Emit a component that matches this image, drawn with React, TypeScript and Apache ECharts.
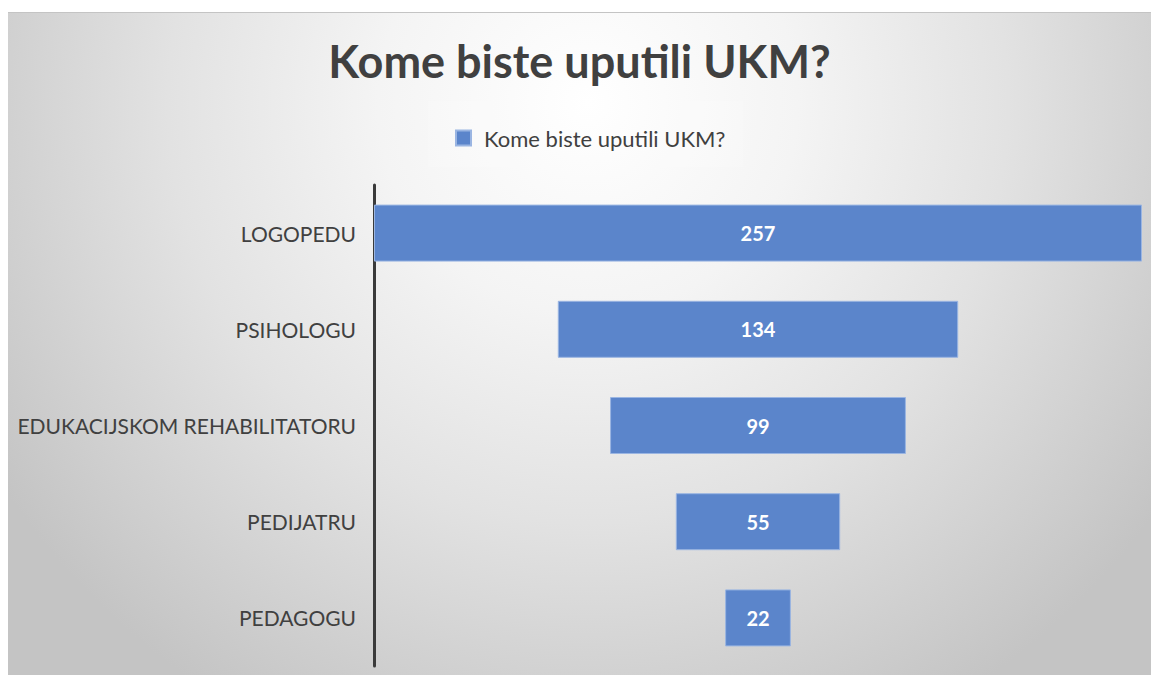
import React, { useEffect, useRef } from "react";
import * as echarts from "echarts";

const titleText = "Kome biste uputili UKM?";
const seriesName = "Kome biste uputili UKM?";
const categories = ["LOGOPEDU", "PSIHOLOGU", "EDUKACIJSKOM REHABILITATORU", "PEDIJATRU", "PEDAGOGU"];
const values = [257, 134, 99, 55, 22];

export default function App() {
  const ref = useRef<HTMLDivElement>(null);
  useEffect(() => {
    if (!ref.current) return;
    const chart = echarts.init(ref.current, null, { renderer: "svg" });
    const maxVal = Math.max(...values);
    const offsets = values.map((v) => (maxVal - v) / 2);
    const font = "Lato, 'Open Sans', sans-serif";
    chart.setOption({
      animation: false,
      backgroundColor: {
        type: "radial",
        x: 580,
        y: 90,
        r: 700,
        global: true,
        colorStops: [
          { offset: 0, color: "#ffffff" },
          { offset: 0.3, color: "#f4f4f4" },
          { offset: 0.6, color: "#e2e2e2" },
          { offset: 1, color: "#c4c4c4" },
        ],
      },
      title: {
        text: titleText,
        left: "center",
        top: 20,
        textStyle: { fontFamily: font, fontSize: 45, fontWeight: "bold", color: "#404040" },
      },
      legend: {
        data: [seriesName],
        left: 420,
        top: 88,
        icon: "rect",
        itemWidth: 15,
        itemHeight: 15,
        itemGap: 10,
        padding: [26, 18, 18, 27],
        backgroundColor: "rgba(255,255,255,0.15)",
        textStyle: { fontFamily: font, fontSize: 22, color: "#404040", padding: [0, 0, 0, 8] },
      },
      grid: { left: 366, right: 9, top: 172, bottom: 9, containLabel: false },
      xAxis: {
        type: "value",
        min: 0,
        max: maxVal,
        show: false,
      },
      yAxis: {
        type: "category",
        data: categories,
        inverse: true,
        axisLine: { show: true, lineStyle: { color: "#3a3a3a", width: 3 } },
        axisTick: { show: false },
        axisLabel: { margin: 18, fontFamily: font, fontSize: 21, color: "#404040" },
      },
      series: [
        {
          name: "offset",
          type: "bar",
          stack: "funnel",
          silent: true,
          itemStyle: { color: "transparent" },
          data: offsets,
          barWidth: 57,
        },
        {
          name: seriesName,
          type: "bar",
          stack: "funnel",
          barWidth: 57,
          data: values,
          itemStyle: { color: "#5b85cb", borderColor: "#9ab5e2", borderWidth: 1 },
          label: {
            show: true,
            position: "inside",
            color: "#ffffff",
            fontFamily: font,
            fontWeight: "bold",
            fontSize: 20,
          },
        },
      ],
    });
    return () => chart.dispose();
  }, []);
  return (
    <div
      ref={ref}
      style={{
        position: "absolute",
        left: 8,
        top: 12,
        width: 1143,
        height: 663,
        borderTop: "1px solid #c4c4c4",
        boxSizing: "border-box",
      }}
    />
  );
}
